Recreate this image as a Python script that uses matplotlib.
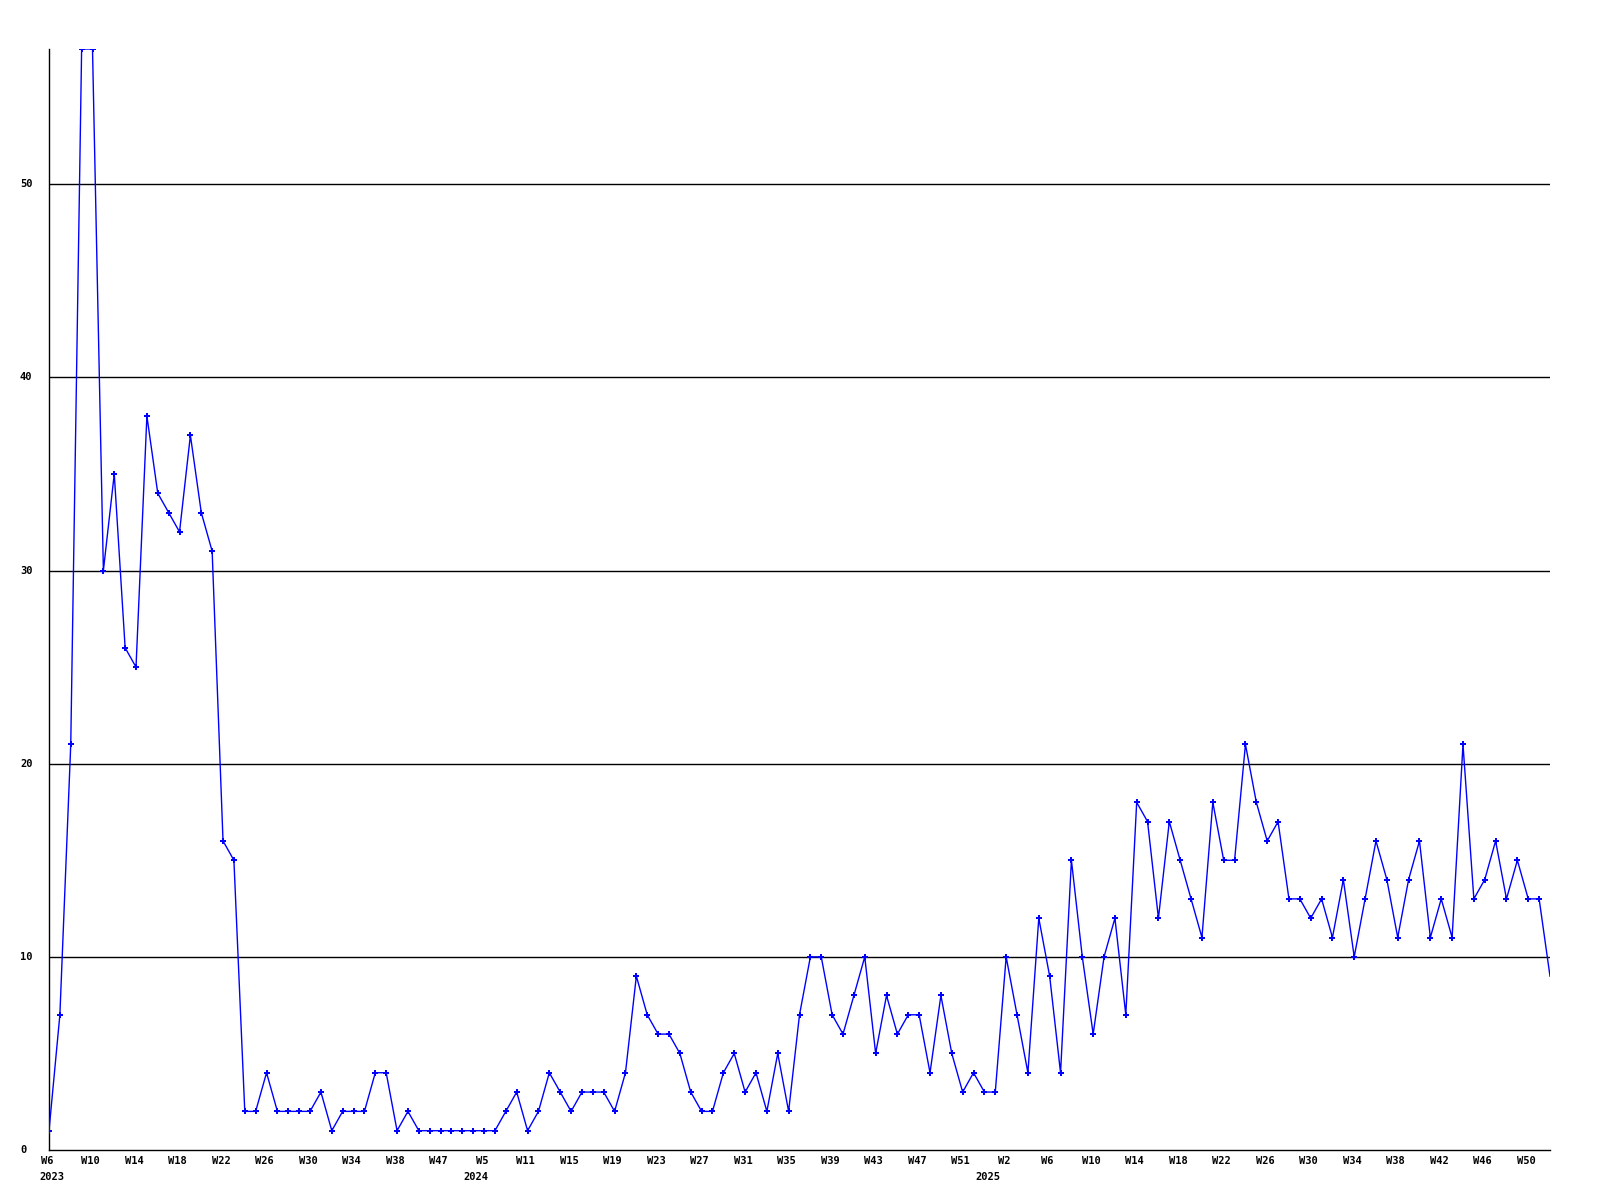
import matplotlib
matplotlib.use("Agg")
import matplotlib.pyplot as plt

# ---- data -------------------------------------------------------------
years_2023 = [2023] * 39
weeks_2023 = list(range(6, 39)) + [40, 42, 44, 47, 49, 51]
values_2023 = [1, 7, 21, 57, 57, 30, 35, 26, 25, 38, 34, 33, 32, 37, 33,
               31, 16, 15, 2, 2, 4, 2, 2, 2, 2, 3, 1, 2, 2, 2, 4, 4, 1,
               2, 1, 1, 1, 1, 1]

years_2024 = [2024] * 47
weeks_2024 = [3, 5, 7, 8, 9, 11] + list(range(12, 53))
values_2024 = [1, 1, 1, 2, 3, 1, 2, 4, 3, 2, 3, 3, 3, 2, 4, 9, 7, 6, 6, 5,
               3, 2, 2, 4, 5, 3, 4, 2, 5, 2, 7, 10, 10, 7, 6, 8, 10, 5, 8,
               6, 7, 7, 4, 8, 5, 3, 4]

years_2025 = [2025] * 53
weeks_2025 = [0, 1] + list(range(2, 53))
values_2025 = [3, 3, 10, 7, 4, 12, 9, 4, 15, 10, 6, 10, 12, 7, 18, 17, 12,
               17, 15, 13, 11, 18, 15, 15, 21, 18, 16, 17, 13, 13, 12, 13,
               11, 14, 10, 13, 16, 14, 11, 14, 16, 11, 13, 11, 21, 13, 14,
               16, 13, 15, 13, 13, 9]

years = years_2023 + years_2024 + years_2025
weeks = weeks_2023 + weeks_2024 + weeks_2025
values = values_2023 + values_2024 + values_2025
week_labels = [f"W{w}" for w in weeks]
y_ticks = [0, 10, 20, 30, 40, 50]

# ---- figure -----------------------------------------------------------
fig = plt.figure(figsize=(16, 12), dpi=100)
ax = fig.add_axes([49 / 1600, 1 - 1150 / 1200, (1550 - 49) / 1600, (1150 - 49) / 1200])

x = list(range(len(values)))
ax.plot(x, values, color="#0000ff", lw=1.0, marker="P", ms=4.2,
        markeredgewidth=0, markevery=list(range(len(values) - 1)),
        clip_on=True, zorder=3)

ax.set_xlim(0, len(values) - 1)
ax.set_ylim(0, max(values))

for v in y_ticks[1:]:
    ax.axhline(v, color="black", lw=1.0, zorder=1)

for s in ["top", "right"]:
    ax.spines[s].set_visible(False)
for s in ["left", "bottom"]:
    ax.spines[s].set_color("black")
    ax.spines[s].set_linewidth(1.0)

ax.set_xticks([])
ax.set_yticks([])

font = dict(family="DejaVu Sans Mono", fontweight="bold", fontsize=7.5)

# y tick labels, left-aligned at x=20px
for v in y_ticks:
    ax.annotate(str(v), xy=(0, v), xycoords=("axes fraction", "data"),
                xytext=(20, 0), textcoords=("figure pixels", "offset pixels"),
                ha="left", va="center", **font)

# x week labels every 4th point
for i in range(0, len(values), 4):
    ax.annotate(week_labels[i], xy=(i, 0), xycoords="data",
                xytext=(-2, -11), textcoords="offset pixels",
                ha="center", va="center", **font)

# year labels at first point of each year
seen = set()
for i, yr in enumerate(years):
    if yr not in seen:
        seen.add(yr)
        ax.annotate(str(yr), xy=(i, 0), xycoords="data",
                    xytext=(3, -27), textcoords="offset pixels",
                    ha="center", va="center", **font)

fig.savefig("out.png", dpi=100, facecolor="white")
